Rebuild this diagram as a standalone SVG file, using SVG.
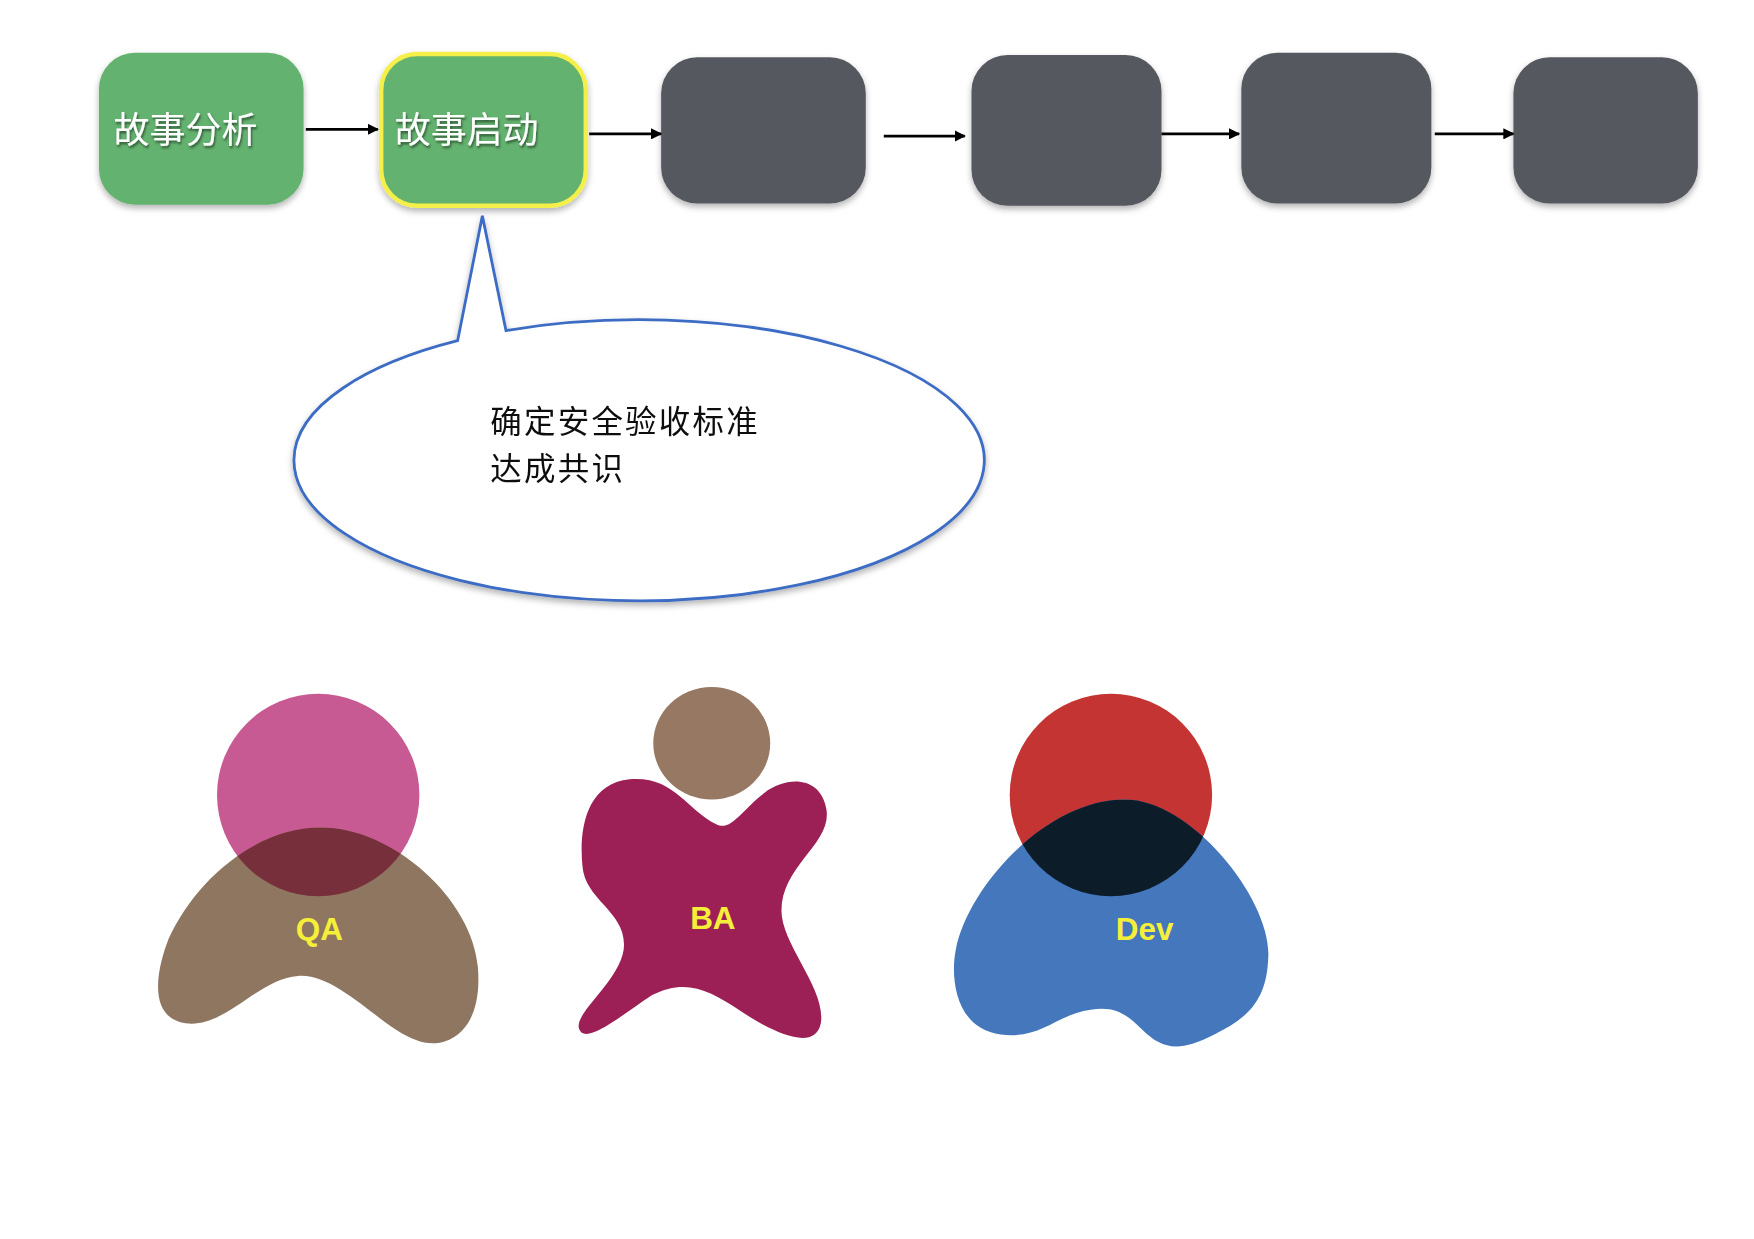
<svg xmlns="http://www.w3.org/2000/svg" width="1754" height="1239" viewBox="0 0 1754 1239">
<style>
.g{fill:#64b26f}.d{fill:#54585f}
.t{font-family:"Noto Sans CJK SC",sans-serif;font-size:32px;fill:#fff}
.c{font-family:"Noto Sans CJK SC",sans-serif;font-size:28px;letter-spacing:2px;fill:#111}
.l{font-family:"Liberation Sans",Arial,sans-serif;font-size:28px;font-weight:bold;fill:#f5ef3a;text-anchor:middle}
.e{stroke:#000;stroke-width:2.5;fill:none;marker-end:url(#a)}
</style>
<defs>
<marker id="a" viewBox="0 0 10 10" refX="9" refY="5" markerWidth="4" markerHeight="4" orient="auto"><path d="M0 0L10 5L0 10z" fill="#000"/></marker>
<filter id="s" x="-10%" y="-10%" width="125%" height="130%"><feDropShadow dx="0" dy="3" stdDeviation="3" flood-color="#000" flood-opacity="0.3"/></filter>
<filter id="ts"><feDropShadow dx="1" dy="2" stdDeviation="1" flood-color="#000" flood-opacity="0.5"/></filter>
<clipPath id="qab"><path d="M285 736C350 736 420 800 425 860C430 920 395 935 370 925C340 915 300 865 265 868C230 870 200 915 165 910C130 905 140 860 150 835C175 780 230 736 285 736Z"/></clipPath>
<clipPath id="devb"><path d="M1000 711C1060 711 1130 800 1128 850C1127 890 1110 905 1080 920C1050 935 1035 935 1015 915C1000 900 990 895 970 898C940 902 925 925 890 920C850 915 845 870 850 845C860 790 930 711 1000 711Z"/></clipPath>
</defs>
<rect width="1754" height="1239" fill="#fff"/>
<g transform="scale(1.1244)">
<g id="n1" filter="url(#s)"><rect class="g" x="88" y="47" width="182" height="135" rx="32"/><text class="t" x="101" y="127" filter="url(#ts)">故事分析</text></g>
<g id="n2" filter="url(#s)"><rect class="g" x="339" y="48" width="182" height="135" rx="32" stroke="#f5ef4a" stroke-width="4"/><text class="t" x="351" y="127" filter="url(#ts)">故事启动</text></g>
<g id="n3" filter="url(#s)"><rect class="d" x="588" y="51" width="182" height="130" rx="32"/></g>
<g id="n4" filter="url(#s)"><rect class="d" x="864" y="49" width="169" height="134" rx="32"/></g>
<g id="n5" filter="url(#s)"><rect class="d" x="1104" y="47" width="169" height="134" rx="32"/></g>
<g id="n6" filter="url(#s)"><rect class="d" x="1346" y="51" width="164" height="130" rx="32"/></g>
<g id="edges">
<path class="e" d="M272 115H336"/><path class="e" d="M524 119H588"/><path class="e" d="M786 121H858"/><path class="e" d="M1033 119H1102"/><path class="e" d="M1276 119H1346"/>
</g>
<g id="callout" filter="url(#s)">
<path d="M407 303L429 192L450 294A307 125 0 1 1 407 303Z" fill="#fff" stroke="#3d6cc4" stroke-width="2.5"/>
<text class="c" x="436" y="385">确定安全验收标准</text>
<text class="c" x="436" y="427">达成共识</text>
</g>
<g id="qa">
<circle cx="283" cy="707" r="90" fill="#c85a93"/>
<path d="M285 736C350 736 420 800 425 860C430 920 395 935 370 925C340 915 300 865 265 868C230 870 200 915 165 910C130 905 140 860 150 835C175 780 230 736 285 736Z" fill="#8e7660"/>
<circle cx="283" cy="707" r="90" fill="#762f3b" clip-path="url(#qab)"/>
<text class="l" x="284" y="836">QA</text>
</g>
<g id="ba">
<path d="M637 733C610 720 600 690 560 693C520 697 515 740 518 770C520 800 555 810 555 840C555 870 510 900 515 915C520 930 550 905 580 885C610 870 630 880 660 900C690 920 725 935 730 910C735 880 695 840 695 810C695 770 740 750 735 720C730 690 700 690 680 705C660 720 650 740 637 733Z" fill="#9c1f55"/>
<ellipse cx="633" cy="661" rx="52" ry="50" fill="#977862"/>
<text class="l" x="634" y="826">BA</text>
</g>
<g id="dev">
<circle cx="988" cy="707" r="90" fill="#c33433"/>
<path d="M1000 711C1060 711 1130 800 1128 850C1127 890 1110 905 1080 920C1050 935 1035 935 1015 915C1000 900 990 895 970 898C940 902 925 925 890 920C850 915 845 870 850 845C860 790 930 711 1000 711Z" fill="#4477bb"/>
<circle cx="988" cy="707" r="90" fill="#0c1d29" clip-path="url(#devb)"/>
<text class="l" x="1018" y="836">Dev</text>
</g>
</g>
</svg>
